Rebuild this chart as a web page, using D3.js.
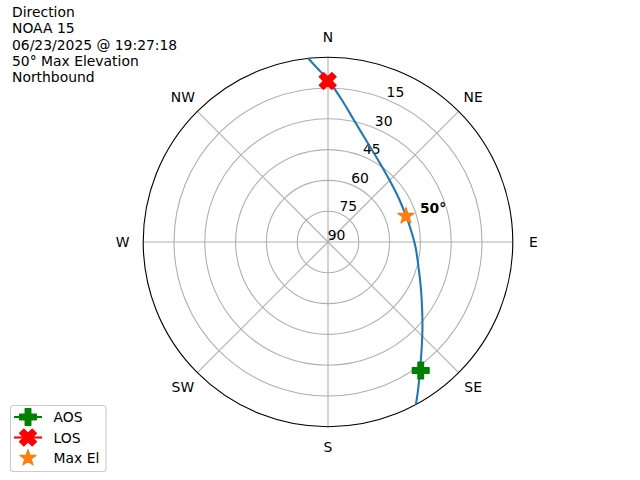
<!DOCTYPE html>
<html>
<head>
<meta charset="utf-8">
<script src="https://cdn.jsdelivr.net/npm/d3@7"></script>
<style>
  html, body { margin: 0; padding: 0; background: #fff; }
  svg { display: block; font-family: "DejaVu Sans", sans-serif; }
</style>
</head>
<body>
<svg id="chart" width="640" height="480"></svg>
<script>
// ---------- data ----------
const titleLines = ["Direction", "NOAA 15", "06/23/2025 @ 19:27:18", "50° Max Elevation", "Northbound"];
const directionLabels = ["N", "NE", "E", "SE", "S", "SW", "W", "NW"];
const directionAngles = [0, 45, 90, 135, 180, 225, 270, 315];
const elevationTicks = [90, 75, 60, 45, 30, 15];
// pass track (time order), azimuth in degrees, elevation in degrees
const passAz = [151.5, 148.7, 144.3, 139.1, 132.0, 124.7, 117.3, 105.4, 93.3, 81.8, 72.3, 59.6, 44.8, 31.4, 20.4, 12.0, 5.6, 0.0, 356.7, 353.8];
const passEl = [0.2, 5.6, 13.2, 20.4, 28.1, 34.3, 39.0, 44.3, 47.3, 49.2, 49.9, 49.6, 47.5, 43.2, 37.0, 29.3, 20.5, 11.1, 5.6, 0.0];
const aosAz = 144.2, aosEl = 12.8;
const losAz = 359.9, losEl = 11.6;
const maxAz = 71.6, maxEl = 50;
const maxElLabel = "50°";
const legendLabels = ["AOS", "LOS", "Max El"];

// ---------- layout ----------
const svg = d3.select("#chart");
const cx = 328, cy = 242, R = 184.8;
const pt = 100 / 72;
const g = svg.append("g").attr("transform", `translate(${cx},${cy})`);

const rScale = d3.scaleLinear().domain([90, 0]).range([0, R]);
const toRad = d => d * Math.PI / 180;
const px = (az, el) => rScale(el) * Math.sin(toRad(az));
const py = (az, el) => -rScale(el) * Math.cos(toRad(az));

const gridColor = "#b0b0b0";

// clip
svg.append("clipPath").attr("id", "polarClip")
  .append("circle").attr("cx", 0).attr("cy", 0).attr("r", R);

// rings
g.selectAll("circle.ring").data(elevationTicks.filter(d => d < 90)).enter()
  .append("circle").attr("class", "ring")
  .attr("r", d => rScale(d))
  .attr("fill", "none").attr("stroke", gridColor).attr("stroke-width", 0.8 * pt);

// spokes
g.selectAll("line.spoke").data(directionAngles).enter()
  .append("line").attr("class", "spoke")
  .attr("x1", 0).attr("y1", 0)
  .attr("x2", d => px(d, 0)).attr("y2", d => py(d, 0))
  .attr("stroke", gridColor).attr("stroke-width", 0.8 * pt);

// outer spine
g.append("circle").attr("r", R).attr("fill", "none").attr("stroke", "#000").attr("stroke-width", 0.8 * pt);

// direction labels
const labR = R + 20.5;
g.selectAll("text.dir").data(directionLabels).enter()
  .append("text").attr("class", "dir")
  .attr("x", (d, i) => labR * Math.sin(toRad(directionAngles[i])))
  .attr("y", (d, i) => -labR * Math.cos(toRad(directionAngles[i])))
  .attr("text-anchor", "middle").attr("dominant-baseline", "central")
  .attr("font-size", "13.9px").attr("fill", "#000")
  .text(d => d);

// radial tick labels
const rlabelAngle = 22.5;
g.selectAll("text.rtick").data(elevationTicks).enter()
  .append("text").attr("class", "rtick")
  .attr("x", d => px(rlabelAngle, d) + 8.5)
  .attr("y", d => py(rlabelAngle, d) - 7.5)
  .attr("text-anchor", "middle").attr("dominant-baseline", "central")
  .attr("font-size", "13.9px").attr("fill", "#000")
  .text(d => d);

// pass line
const lineGen = d3.line()
  .x(d => px(d[0], d[1])).y(d => py(d[0], d[1]))
  .curve(d3.curveCatmullRom.alpha(0.5));
const pts = passAz.map((a, i) => [a, passEl[i]]);
g.append("path").attr("d", lineGen(pts))
  .attr("fill", "none").attr("stroke", "#1f77b4").attr("stroke-width", 1.5 * pt)
  .attr("stroke-linecap", "square")
  .attr("clip-path", "url(#polarClip)");

// marker shapes
const ms = 12 * pt; // markersize 12pt in px
const plusPath = s => {
  const v = [[-1,-3],[1,-3],[1,-1],[3,-1],[3,1],[1,1],[1,3],[-1,3],[-1,1],[-3,1],[-3,-1],[-1,-1]];
  return "M" + v.map(p => [p[0] / 6 * s, p[1] / 6 * s].join(",")).join("L") + "Z";
};
const xPath = s => {
  const v = [[-1,-2],[0,-1],[1,-2],[2,-1],[1,0],[2,1],[1,2],[0,1],[-1,2],[-2,1],[-1,0],[-2,-1]];
  return "M" + v.map(p => [p[0] / 4 * s, p[1] / 4 * s].join(",")).join("L") + "Z";
};
const starPath = s => {
  const out = s / 2, inn = out * 0.381966;
  const v = d3.range(10).map(i => {
    const r = i % 2 === 0 ? out : inn;
    const a = i * Math.PI / 5;
    return [r * Math.sin(a), -r * Math.cos(a)];
  });
  return "M" + v.map(p => p.join(",")).join("L") + "Z";
};

function marker(parent, x, y, d, color) {
  parent.append("path").attr("d", d)
    .attr("transform", `translate(${x},${y})`)
    .attr("fill", color).attr("stroke", color).attr("stroke-width", 1 * pt)
    .attr("stroke-linejoin", "round");
}

marker(g, px(aosAz, aosEl), py(aosAz, aosEl), plusPath(ms), "#008000");
marker(g, px(losAz, losEl), py(losAz, losEl), xPath(ms), "#ff0000");
marker(g, px(maxAz, maxEl), py(maxAz, maxEl), starPath(ms), "#ff7f0e");

// max elevation annotation
g.append("text")
  .attr("x", px(maxAz, maxEl) + 14)
  .attr("y", py(maxAz, maxEl) - 3.5)
  .attr("font-size", "13.9px").attr("font-weight", "bold").attr("fill", "#000")
  .text(maxElLabel);

// title text
svg.append("g").selectAll("text").data(titleLines).enter()
  .append("text")
  .attr("x", 12).attr("y", (d, i) => 17.3 + i * 16.1)
  .attr("font-size", "13.9px").attr("fill", "#000")
  .text(d => d);

// legend
const leg = svg.append("g");
leg.append("rect").attr("x", 10.5).attr("y", 405.5).attr("width", 95.5).attr("height", 66)
  .attr("rx", 3).attr("fill", "#fff").attr("fill-opacity", 0.8)
  .attr("stroke", "#cccccc").attr("stroke-width", 0.8 * pt);
const legY = [417, 437.5, 458];
const legColors = ["#008000", "#ff0000", "#ff7f0e"];
const legShapes = [plusPath(ms), xPath(ms), starPath(ms)];
const legHasLine = [true, true, false];
legendLabels.forEach((lab, i) => {
  if (legHasLine[i]) {
    leg.append("line").attr("x1", 14).attr("x2", 42).attr("y1", legY[i]).attr("y2", legY[i])
      .attr("stroke", legColors[i]).attr("stroke-width", 1.5 * pt);
  }
  marker(leg, 28, legY[i], legShapes[i], legColors[i]);
  leg.append("text").attr("x", 53.5).attr("y", legY[i]).attr("dominant-baseline", "central")
    .attr("font-size", "13.9px").attr("fill", "#000").text(lab);
});
</script>
</body>
</html>
